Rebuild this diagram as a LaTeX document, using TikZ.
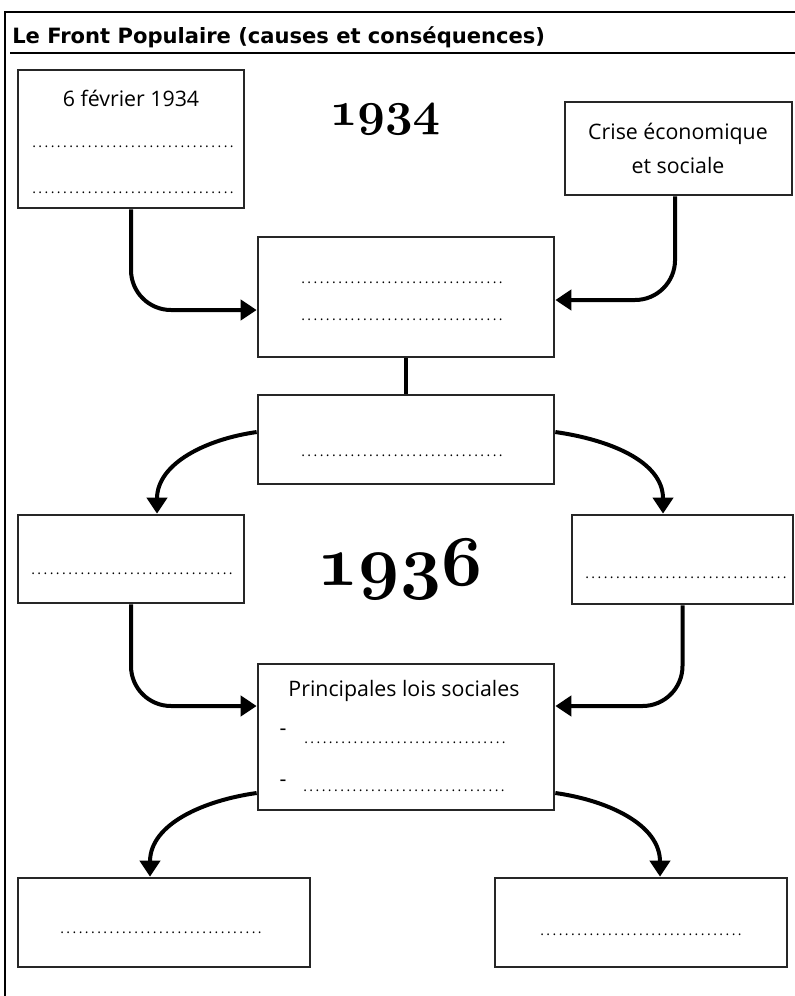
\documentclass[tikz,border=0pt]{standalone}
\usepackage{fontspec}
\setmainfont{Open Sans}
\newfontfamily\titrefont{DejaVu Sans}
\usetikzlibrary{arrows.meta}
\newcommand{\pointilles}{\makebox[153pt]{\xleaders\hbox to 4.6pt{\hss.\hss}\hfill}}
\newcommand{\annee}[2]{\scalebox{#1}{\fontencoding{OML}\fontfamily{cmm}\fontseries{b}\fontshape{it}\fontsize{10}{10}\selectfont #2}}
\tikzset{
  boite/.style={draw=black!85, line width=2pt},
  fleche/.style={line width=3pt, -{Triangle[length=12pt,width=15pt]}},
  texte/.style={font=\fontsize{16}{25}\selectfont, inner sep=0pt, align=center},
  blanc/.style={font=\fontsize{10.5}{12}\selectfont, inner sep=0pt, anchor=base, text=black},
}
\begin{document}
\begin{tikzpicture}[x=0.75pt,y=0.75pt]
  \useasboundingbox (0,0) rectangle (795,-996);
  \draw[line width=1.6pt] (5,-996) -- (5,-12) -- (795,-12);
  \draw[line width=1.3pt] (10,-53) -- (795,-53);
  \node[anchor=base west, inner sep=0pt, font=\titrefont\bfseries\fontsize{15.8}{18}\selectfont] (titre) at (12,-43) {Le Front Populaire (causes et conséquences)};

  \node[boite, minimum width=169.5pt, minimum height=103.5pt] (fevrier) at (131,-139) {};
  \node[boite, minimum width=170.25pt, minimum height=69.75pt] (crise) at (678.5,-148.5) {};
  \node[boite, minimum width=222pt, minimum height=90pt] (cause) at (406,-297) {};
  \node[boite, minimum width=222pt, minimum height=66.75pt] (front) at (406,-439.5) {};
  \node[boite, minimum width=169.5pt, minimum height=66pt] (gauche) at (131,-559) {};
  \node[boite, minimum width=165.75pt, minimum height=66.75pt] (droite) at (682.5,-559.5) {};
  \node[boite, minimum width=222pt, minimum height=109.5pt] (lois) at (406,-737) {};
  \node[boite, minimum width=219pt, minimum height=66.75pt] (suiteg) at (164,-922.5) {};
  \node[boite, minimum width=219pt, minimum height=66.75pt] (suited) at (641,-922.5) {};

  \node[anchor=base, inner sep=0pt] (an1934) at (385,-125) {\annee{3.6}{1934}};
  \node[anchor=base, inner sep=0pt] (an1936) at (400,-585) {\annee{5.35}{1936}};

  \node[texte, anchor=base] (fevriert) at (131,-106) {6 février 1934};
  \node[blanc] (fevrier1) at (133,-147) {\pointilles};
  \node[blanc] (fevrier2) at (133,-193) {\pointilles};
  \node[texte, anchor=base] (crise1) at (678,-173) {Crise économique\\et sociale};
  \node[blanc] (cause1) at (402,-283) {\pointilles};
  \node[blanc] (cause2) at (402,-320) {\pointilles};
  \node[blanc] (front1) at (402,-456) {\pointilles};
  \node[blanc] (gauche1) at (132,-574) {\pointilles};
  \node[blanc] (droite1) at (686,-578) {\pointilles};
  \node[texte, anchor=base] (loist) at (404,-696) {Principales lois sociales};
  \node[texte, anchor=base] (tiret1) at (283,-735) {-};
  \node[blanc] (lois1) at (405,-743) {\pointilles};
  \node[texte, anchor=base] (tiret2) at (283,-786) {-};
  \node[blanc] (lois2) at (404,-791) {\pointilles};
  \node[blanc] (suiteg1) at (161,-933) {\pointilles};
  \node[blanc] (suited1) at (641,-935) {\pointilles};

  \draw[fleche, rounded corners=30pt] (fevrier.south) |- ([yshift=-9.75pt]cause.west);
  \draw[fleche, rounded corners=30pt] ([xshift=-2.6pt]crise.south) |- ([yshift=-2.25pt]cause.east);
  \draw[line width=3pt] (cause.south) -- (front.north);
  \draw[fleche] ([yshift=5.6pt]front.west) to[out=188,in=90] ([xshift=19.5pt]gauche.north);
  \draw[fleche] ([yshift=5.6pt]front.east) to[out=-8,in=90] ([xshift=-14.6pt]droite.north);
  \draw[fleche, rounded corners=30pt] (gauche.south) |- ([yshift=23.25pt]lois.west);
  \draw[fleche, rounded corners=30pt] (droite.south) |- ([yshift=23.25pt]lois.east);
  \draw[fleche] ([yshift=-42pt]lois.west) to[out=188,in=90] ([xshift=-10.5pt]suiteg.north);
  \draw[fleche] ([yshift=-42pt]lois.east) to[out=-8,in=90] ([xshift=14.25pt]suited.north);
\end{tikzpicture}
\end{document}
